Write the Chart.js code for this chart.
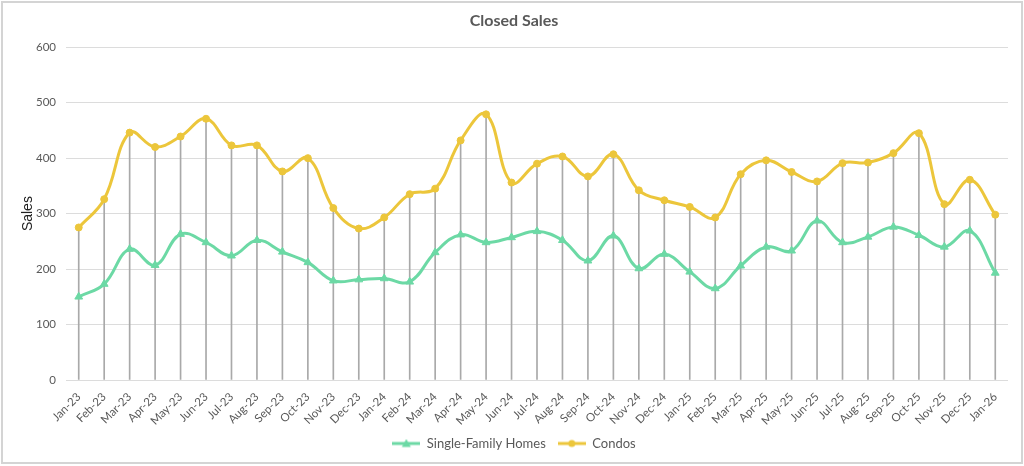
<!DOCTYPE html>
<html>
<head>
<meta charset="utf-8">
<script src="https://cdn.jsdelivr.net/npm/chart.js@4/dist/chart.umd.min.js"></script>
<style>
  html, body { margin: 0; padding: 0; background: #fff; }
  #frame { position: absolute; left: 1px; top: 1px; width: 1018px; height: 459px; border: 2px solid #d4d4d4; }
  #wrap { position: absolute; left: 0; top: 0; width: 1024px; height: 466px; }
</style>
</head>
<body>
<div id="frame"></div>
<div id="wrap"><canvas id="salesChart" width="1024" height="466"></canvas></div>
<script>
// months along the x axis
var months = ['Jan-23','Feb-23','Mar-23','Apr-23','May-23','Jun-23','Jul-23','Aug-23','Sep-23','Oct-23','Nov-23','Dec-23',
  'Jan-24','Feb-24','Mar-24','Apr-24','May-24','Jun-24','Jul-24','Aug-24','Sep-24','Oct-24','Nov-24','Dec-24',
  'Jan-25','Feb-25','Mar-25','Apr-25','May-25','Jun-25','Jul-25','Aug-25','Sep-25','Oct-25','Nov-25','Dec-25',
  'Jan-26'];

var singleFamily = [150,173,236,207,263,248,224,252,231,212,179,181,
  183,177,230,262,248,257,268,252,215,260,201,227,
  195,165,206,240,233,287,248,258,276,261,240,269,
  193];

var condos = [275,326,446,420,439,471,423,423,376,400,310,273,
  293,335,345,432,479,356,390,403,367,407,342,324,
  312,293,371,396,375,358,391,392,409,445,317,361,
  298];

var yTicks = [0,100,200,300,400,500,600];

var greenCol = '#6cd9a5';
var yellowCol = '#ecc63b';
var dropCol = '#a9a9a9';
var textCol = '#595959';

// the drop line reaches the higher of the two series
var dropTops = [];
for (var i = 0; i < months.length; i++) {
  dropTops.push(Math.max(singleFamily[i], condos[i]));
}

// little "line with marker" swatch used in the legend
function legendSwatch(color, shape) {
  var c = document.createElement('canvas');
  c.width = 28; c.height = 10;
  var ctx = c.getContext('2d');
  ctx.strokeStyle = color;
  ctx.lineWidth = 3;
  ctx.beginPath();
  ctx.moveTo(0, 5); ctx.lineTo(28, 5);
  ctx.stroke();
  ctx.fillStyle = color;
  ctx.beginPath();
  if (shape == 'triangle') {
    ctx.moveTo(14, 0.5); ctx.lineTo(18.5, 8.5); ctx.lineTo(9.5, 8.5);
  } else {
    ctx.arc(14, 5, 3.5, 0, Math.PI * 2);
  }
  ctx.fill();
  return c;
}
var swatches = [legendSwatch(greenCol, 'triangle'), legendSwatch(yellowCol, 'circle')];

new Chart(document.getElementById('salesChart'), {
  data: {
    labels: months,
    datasets: [
      {
        type: 'line',
        label: 'Single-Family Homes',
        data: singleFamily,
        borderColor: greenCol,
        backgroundColor: greenCol,
        borderWidth: 3,
        tension: 0.4,
        pointStyle: 'triangle',
        pointRadius: 4.5,
        pointBorderWidth: 1,
        order: 1
      },
      {
        type: 'line',
        label: 'Condos',
        data: condos,
        borderColor: yellowCol,
        backgroundColor: yellowCol,
        borderWidth: 3,
        tension: 0.4,
        pointStyle: 'circle',
        pointRadius: 3.5,
        pointBorderWidth: 1,
        order: 2
      },
      {
        type: 'bar',
        label: 'drop',
        data: dropTops,
        backgroundColor: dropCol,
        barThickness: 1,
        order: 3
      }
    ]
  },
  options: {
    responsive: false,
    animation: false,
    layout: { padding: { left: 20, right: 16, top: 8, bottom: 6 } },
    plugins: {
      title: {
        display: true,
        text: 'Closed Sales',
        color: textCol,
        font: { family: 'Lato', size: 16, weight: 'bold' },
        padding: { top: 3, bottom: 17 }
      },
      legend: {
        position: 'bottom',
        labels: {
          color: textCol,
          font: { family: 'Lato', size: 13 },
          usePointStyle: true,
          pointStyleWidth: 28,
          padding: 12,
          filter: function(item) { return item.datasetIndex < 2; },
          generateLabels: function(chart) {
            var items = Chart.defaults.plugins.legend.labels.generateLabels(chart);
            items.forEach(function(it) {
              if (it.datasetIndex < 2) it.pointStyle = swatches[it.datasetIndex];
            });
            return items;
          }
        }
      },
      tooltip: { enabled: false }
    },
    scales: {
      x: {
        offset: true,
        grid: { display: false },
        border: { display: false },
        afterFit: function(scale) { scale.height = 45; },
        ticks: {
          color: textCol,
          font: { family: 'Lato', size: 11.5 },
          minRotation: 45,
          maxRotation: 45,
          autoSkip: false,
          padding: 2
        }
      },
      y: {
        min: 0,
        max: 600,
        afterBuildTicks: function(scale) {
          scale.ticks = yTicks.map(function(v) { return { value: v }; });
        },
        afterFit: function(scale) { scale.width = 46; },
        grid: { color: '#dcdcdc', drawTicks: false },
        border: { display: false },
        ticks: {
          color: textCol,
          font: { family: 'Lato', size: 11.5 },
          padding: 10
        },
        title: {
          display: true,
          text: 'Sales',
          color: '#222',
          font: { family: 'Liberation Sans', size: 14 },
          padding: { top: 0, bottom: 6 }
        }
      }
    }
  }
});
</script>
</body>
</html>
